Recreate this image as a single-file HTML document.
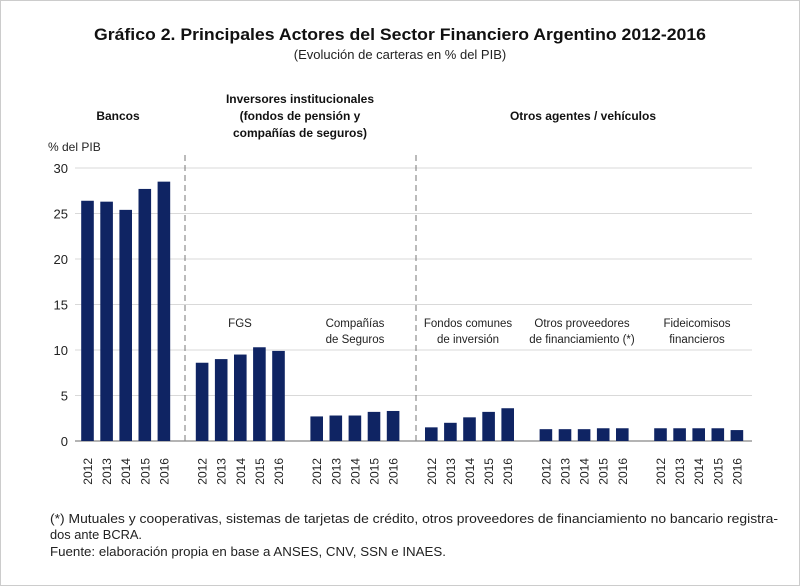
<!DOCTYPE html>
<html><head><meta charset="utf-8"><style>
body{margin:0;background:#fff;}
svg{display:block;font-family:"Liberation Sans",sans-serif;}
</style></head><body>
<svg id="c" width="800" height="586" viewBox="0 0 800 586">
<rect x="0.5" y="0.5" width="799" height="585" fill="#fff" stroke="#ccc"/>
<text x="400" y="40" text-anchor="middle" font-size="17" font-weight="bold" fill="#111" textLength="612" lengthAdjust="spacingAndGlyphs">Gráfico 2. Principales Actores del Sector Financiero Argentino 2012-2016</text>
<text x="400" y="59" text-anchor="middle" font-size="13" fill="#222">(Evolución de carteras en % del PIB)</text>
<text x="118" y="120" text-anchor="middle" font-size="12" font-weight="bold" fill="#111">Bancos</text>
<g font-size="12" font-weight="bold" fill="#111" text-anchor="middle">
<text x="300" y="103">Inversores institucionales</text>
<text x="300" y="120">(fondos de pensión y</text>
<text x="300" y="137">compañías de seguros)</text>
</g>
<text x="583" y="120" text-anchor="middle" font-size="12" font-weight="bold" fill="#111">Otros agentes / vehículos</text>
<text x="48" y="151" font-size="12" fill="#222">% del PIB</text>
<g id="grid"></g><g id="bars"></g><g id="labels"></g>
<g font-size="11.5" fill="#222" text-anchor="middle">
<text x="240" y="327">FGS</text>
<text x="355" y="327">Compañías</text><text x="355" y="343">de Seguros</text>
<text x="468" y="327">Fondos comunes</text><text x="468" y="343">de inversión</text>
<text x="582" y="327">Otros proveedores</text><text x="582" y="343">de financiamiento (*)</text>
<text x="697" y="327">Fideicomisos</text><text x="697" y="343">financieros</text>
</g>
<g font-size="12.5" fill="#222">
<text x="50" y="523" textLength="728" lengthAdjust="spacingAndGlyphs">(*) Mutuales y cooperativas, sistemas de tarjetas de crédito, otros proveedores de financiamiento no bancario registra-</text>
<text x="50" y="539" textLength="92" lengthAdjust="spacingAndGlyphs">dos ante BCRA.</text>
<text x="50" y="556" textLength="396" lengthAdjust="spacingAndGlyphs">Fuente: elaboración propia en base a ANSES, CNV, SSN e INAES.</text>
</g>
</svg>
<script>
const groups=["Bancos","FGS","Compañías de Seguros","Fondos comunes de inversión","Otros proveedores","Fideicomisos financieros"];
const years=["2012","2013","2014","2015","2016"];
const bancos=[26.4,26.3,25.4,27.7,28.5];
const fgs=[8.6,9.0,9.5,10.3,9.9];
const seguros=[2.7,2.8,2.8,3.2,3.3];
const fondos=[1.5,2.0,2.6,3.2,3.6];
const otros=[1.3,1.3,1.3,1.4,1.4];
const fideicomisos=[1.4,1.4,1.4,1.4,1.2];
const yTicks=[0,5,10,15,20,25,30];
const series=[bancos,fgs,seguros,fondos,otros,fideicomisos];
const NS="http://www.w3.org/2000/svg";
const y0=441,pxPer=9.1,slot=19.1,x0=87.5;
const yS=v=>y0-v*pxPer;
const xS=(g,i)=>x0+(g*6+i)*slot;
function mk(t,a,p){const e=document.createElementNS(NS,t);for(const k in a)e.setAttribute(k,a[k]);p.appendChild(e);return e;}
const grid=document.getElementById('grid'),bars=document.getElementById('bars'),labels=document.getElementById('labels');
yTicks.forEach(t=>{
 if(t>0){const l=mk('line',{x1:75,x2:752,y1:yS(t),y2:yS(t),stroke:'#d9d9d9','stroke-width':1},grid);
 
 }
 const tx=mk('text',{x:68,y:yS(t)+5,'text-anchor':'end','font-size':13,fill:'#222'},grid);tx.textContent=t;
 
 
});
[185,416].forEach((x,k)=>{const d=mk('line',{x1:x,x2:x,y1:155,y2:y0,stroke:'#777','stroke-dasharray':'6,4','stroke-width':1},grid);
 
 });
const ax=mk('line',{x1:75,x2:752,y1:y0,y2:y0,stroke:'#888','stroke-width':1.2},grid);


series.forEach((s,g)=>s.forEach((v,i)=>{
 const cx=xS(g,i);
 const r=mk('rect',{x:cx-6.3,y:yS(v),width:12.6,height:v*pxPer,fill:'#0f2463'},bars);
 
 
 const t=mk('text',{x:cx+4.5,y:458,'text-anchor':'end','font-size':12,fill:'#222',transform:`rotate(-90 ${cx+4.5} 458)`},labels);
 t.textContent=years[i];
 
 
}));
</script>
</body></html>
